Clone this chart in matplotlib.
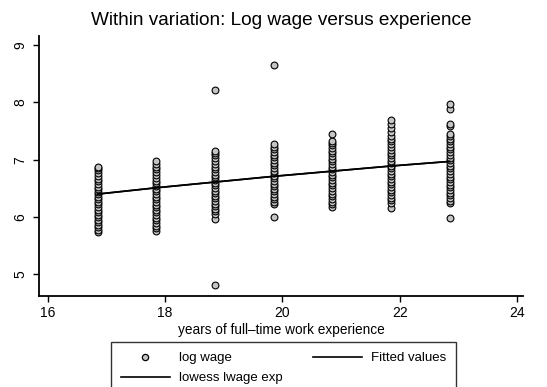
import numpy as np
import matplotlib.pyplot as plt
from matplotlib.lines import Line2D

plt.rcParams['font.family'] = ['Liberation Sans', 'DejaVu Sans']

# within-transformed experience (exp - person mean + grand mean)
exp_levels = [16.85, 17.85, 18.85, 19.85, 20.85, 21.85, 22.85]

# log wage observations at each experience level
lwage_1 = [5.74, 5.78, 5.83, 5.86, 5.91, 5.95, 6.00, 6.03, 6.08, 6.13, 6.17, 6.22,
           6.26, 6.31, 6.35, 6.40, 6.44, 6.49, 6.53, 6.58, 6.63, 6.67, 6.72,
           6.77, 6.82, 6.86, 6.88]
lwage_2 = [5.76, 5.80, 5.85, 5.89, 5.94, 5.98, 6.03, 6.08, 6.12, 6.17, 6.21, 6.26,
           6.31, 6.35, 6.40, 6.45, 6.49, 6.54, 6.59, 6.63, 6.68, 6.73, 6.78,
           6.83, 6.88, 6.93, 6.97]
lwage_3 = [4.81, 5.96, 6.05, 6.10, 6.14, 6.19, 6.23, 6.28, 6.33, 6.37, 6.42, 6.46,
           6.51, 6.56, 6.60, 6.65, 6.70, 6.74, 6.79, 6.84, 6.88, 6.93, 6.98,
           7.03, 7.08, 7.12, 7.15, 8.22]
lwage_4 = [6.00, 6.22, 6.26, 6.31, 6.35, 6.40, 6.45, 6.49, 6.54, 6.58, 6.63, 6.68,
           6.72, 6.77, 6.81, 6.86, 6.91, 6.95, 7.00, 7.05, 7.09, 7.14, 7.19,
           7.23, 7.28, 8.65]
lwage_5 = [6.18, 6.22, 6.27, 6.31, 6.36, 6.41, 6.45, 6.50, 6.55, 6.59, 6.64, 6.69,
           6.73, 6.78, 6.83, 6.87, 6.92, 6.97, 7.01, 7.06, 7.11, 7.15, 7.20,
           7.25, 7.29, 7.32, 7.45]
lwage_6 = [6.15, 6.25, 6.29, 6.34, 6.38, 6.43, 6.48, 6.52, 6.57, 6.61, 6.66, 6.71,
           6.75, 6.80, 6.85, 6.89, 6.94, 6.98, 7.03, 7.08, 7.12, 7.17, 7.22,
           7.27, 7.32, 7.36, 7.42, 7.48, 7.55, 7.62, 7.69]
lwage_7 = [5.98, 6.24, 6.28, 6.33, 6.38, 6.42, 6.47, 6.52, 6.56, 6.61, 6.66, 6.70,
           6.75, 6.80, 6.85, 6.89, 6.94, 6.99, 7.03, 7.08, 7.13, 7.18, 7.22,
           7.27, 7.32, 7.37, 7.42, 7.45, 7.58, 7.62, 7.88, 7.97]
lwage_cols = [lwage_1, lwage_2, lwage_3, lwage_4, lwage_5, lwage_6, lwage_7]

# OLS fit and lowess smooth of lwage on exp (they coincide)
fitted = [6.40, 6.51, 6.61, 6.71, 6.80, 6.89, 6.97]
lowess = [6.40, 6.51, 6.61, 6.71, 6.80, 6.89, 6.97]

x_ticks = [16, 18, 20, 22, 24]
y_ticks = [5, 6, 7, 8, 9]

fig = plt.figure(figsize=(5.47, 3.87), dpi=100)
ax = fig.add_axes([0.071, 0.235, 0.885, 0.672])

for xv, ys in zip(exp_levels, lwage_cols):
    ax.scatter([xv] * len(ys), ys, s=24, facecolor='#c4c4c4', edgecolor='black',
               linewidth=0.8, zorder=2)

ax.plot(exp_levels, fitted, color='black', lw=1.2, zorder=3)
ax.plot(exp_levels, lowess, color='black', lw=1.2, zorder=3)

ax.set_xlim(15.85, 24.1)
ax.set_ylim(4.62, 9.16)
ax.set_xticks(x_ticks)
ax.set_yticks(y_ticks)
ax.set_yticklabels([str(v) for v in y_ticks], rotation=90, va='center')
ax.tick_params(axis='both', direction='out', length=4, width=1, labelsize=10,
               color='black')
ax.tick_params(axis='y', pad=4)
ax.tick_params(axis='x', pad=3)
for side in ['top', 'right']:
    ax.spines[side].set_visible(False)
for side in ['left', 'bottom']:
    ax.spines[side].set_linewidth(1.3)

ax.set_xlabel('years of full\u2013time work experience', fontsize=9.8, labelpad=2)
fig.text(0.514, 0.948, 'Within variation: Log wage versus experience',
         ha='center', va='center', fontsize=13.7)

handles = [
    Line2D([], [], ls='none', marker='o', markersize=4.5, markerfacecolor='#c4c4c4',
           markeredgecolor='black', markeredgewidth=0.9),
    Line2D([], [], color='black', lw=1.2),
    Line2D([], [], color='black', lw=1.2),
]
labels = ['log wage', 'lowess lwage exp', 'Fitted values']
leg = fig.legend(handles, labels, ncol=2, loc='upper left',
                 bbox_to_anchor=(0.203, 0.116), fontsize=9.5, frameon=True,
                 fancybox=False, edgecolor='black', handlelength=3.7,
                 columnspacing=2.3, handletextpad=0.7, labelspacing=0.6,
                 borderpad=0.75, borderaxespad=0)
leg.get_frame().set_linewidth(1.0)

fig.savefig('out.png', dpi=100)
